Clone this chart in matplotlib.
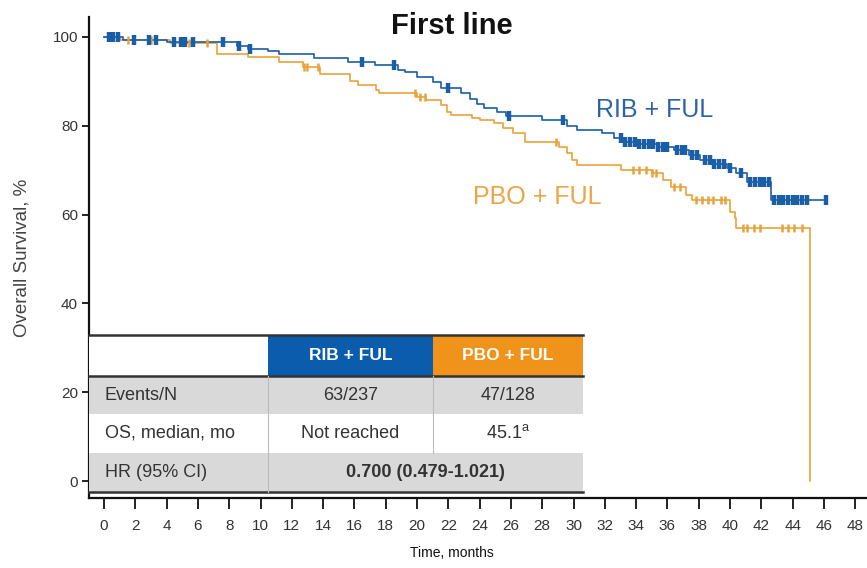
import numpy as np
import matplotlib
matplotlib.use("Agg")
import matplotlib.pyplot as plt
from matplotlib.patches import Rectangle

plt.rcParams['font.family'] = ['Liberation Sans', 'DejaVu Sans']

# ---------------- data ----------------
rib_times = [0, 1.2, 4.0, 8.5, 9.2, 10.5, 11.2, 13.4, 15.6, 17.3, 18.8, 19.2, 20.0,
             21.0, 21.5, 22.8, 23.4, 23.8, 24.3, 25.1, 25.7, 28.0, 29.6, 30.2, 31.8,
             32.6, 33.2, 34.0, 35.4, 36.4, 37.4, 38.1, 39.0, 39.8, 40.4, 41.1, 42.6, 46.1]
rib_surv = [100, 99.4, 98.8, 97.9, 97.3, 96.8, 96.2, 95.2, 94.4, 93.7, 92.6, 92.2, 91.1,
            89.9, 88.6, 87.4, 86.0, 84.8, 83.9, 83.1, 82.2, 81.3, 79.9, 79.1, 78.3,
            77.2, 76.4, 75.8, 75.2, 74.5, 73.4, 72.3, 71.5, 70.5, 69.4, 67.3, 63.3, 63.3]
rib_censor = [0.3, 0.6, 0.9, 1.9, 2.9, 3.3, 4.5, 4.9, 5.2, 5.7, 7.6, 8.6, 9.3, 16.5, 18.5,
              22.0, 25.9, 29.3, 33.0, 33.3, 33.6, 33.9, 34.2, 34.5, 34.8, 35.1, 35.4, 35.7,
              36.0, 36.6, 36.9, 37.1, 37.6, 37.9, 38.4, 38.7, 39.0, 39.3, 39.6, 40.0, 40.7,
              41.3, 41.6, 41.9, 42.2, 42.5, 42.8, 43.1, 43.4, 43.7, 44.0, 44.3, 44.6, 44.9, 46.1]

pbo_times = [0, 1.0, 4.2, 7.2, 9.2, 11.2, 12.7, 13.8, 15.7, 16.2, 17.4, 17.6, 20.0, 20.6,
             21.5, 21.9, 22.2, 23.5, 24.0, 24.9, 25.5, 26.1, 26.9, 29.1, 29.6, 29.9, 30.2,
             33.0, 35.0, 35.7, 36.2, 37.2, 37.6, 40.0, 40.3, 40.4, 45.1]
pbo_surv = [100, 99.3, 98.7, 96.2, 95.4, 94.4, 93.3, 91.7, 90.0, 89.2, 88.1, 87.3, 86.5, 85.8,
            84.7, 83.2, 82.4, 81.8, 81.3, 80.6, 79.5, 78.4, 76.4, 75.2, 73.8, 72.3, 71.2,
            70.0, 69.4, 67.8, 66.2, 64.4, 63.3, 60.6, 59.2, 57.0, 0.0]
pbo_censor = [1.5, 1.9, 3.0, 5.4, 6.6, 12.8, 13.0, 13.7, 19.9, 20.2, 20.5, 28.9, 33.8, 34.2,
              34.6, 35.0, 35.3, 36.4, 36.8, 37.8, 38.2, 38.6, 38.9, 39.4, 39.7, 40.8, 41.1,
              41.5, 41.9, 43.3, 43.7, 44.1, 44.6]

x_ticks = list(range(0, 50, 2))
y_ticks = [0, 20, 40, 60, 80, 100]

arm_labels = ['RIB + FUL', 'PBO + FUL']
row_labels = ['Events/N', 'OS, median, mo', 'HR (95% CI)']
events_n = ['63/237', '47/128']
median_os = ['Not reached', r'45.1$^{\mathregular{a}}$']
hr_text = '0.700 (0.479-1.021)'

BLUE = '#1a5ea8'
ORANGE = '#e9a23b'
HDR_BLUE = '#0b5cad'
HDR_ORANGE = '#f0931a'
GRAY = '#d9d9d9'

# ---------------- figure ----------------
W, H = 867, 568
fig = plt.figure(figsize=(W / 100, H / 100), dpi=100)
L, R, T, B = 89, 867, 17, 498
ax = fig.add_axes([L / W, 1 - B / H, (R - L) / W, (B - T) / H])
ax.set_xlim(-0.96, 48.75)
ax.set_ylim(-3.8, 104.5)

def surv_at(times, surv, c):
    idx = np.searchsorted(np.asarray(times), np.asarray(c), side='right') - 1
    return np.asarray(surv)[idx]

ax.step(rib_times, rib_surv, where='post', color=BLUE, lw=1.2, zorder=3)
ax.plot(rib_censor, surv_at(rib_times, rib_surv, rib_censor), ls='none', marker='|',
        ms=6.5, mew=3.2, color=BLUE, zorder=4)
ax.step(pbo_times, pbo_surv, where='post', color=ORANGE, lw=1.2, zorder=2)
ax.plot(pbo_censor, surv_at(pbo_times, pbo_surv, pbo_censor), ls='none', marker='|',
        ms=6, mew=1.8, color=ORANGE, zorder=3)

for s in ['top', 'right']:
    ax.spines[s].set_visible(False)
for s in ['left', 'bottom']:
    ax.spines[s].set_linewidth(1.6)
    ax.spines[s].set_color('#111111')

ax.set_xticks(x_ticks)
ax.set_xticklabels([str(v) for v in x_ticks], fontsize=11, color='#333333')
ax.set_yticks(y_ticks)
ax.set_yticklabels([str(v) for v in y_ticks], fontsize=11, color='#333333')
ax.tick_params(axis='x', direction='out', length=8, width=1.3, pad=7, color='#111111')
ax.tick_params(axis='y', direction='out', length=5, width=1.3, pad=3, color='#111111')

fig.text(452 / W, 1 - 26 / H, 'First line', ha='center', va='center',
         fontsize=21, fontweight='bold', color='#111111')
fig.text(452 / W, 1 - 553 / H, 'Time, months', ha='center', va='center',
         fontsize=10, color='#111111')
fig.text(22 / W, 1 - 258 / H, 'Overall Survival, %', ha='center', va='center',
         rotation=90, fontsize=13.5, color='#444444')

fig.text(655 / W, 1 - 110 / H, arm_labels[0], ha='center', va='center',
         fontsize=18, color='#2d62a6')
fig.text(537 / W, 1 - 197 / H, arm_labels[1], ha='center', va='center',
         fontsize=18, color='#eba544')

# ---------------- table ----------------
def fx(px):
    return (px - L) / (R - L)

def fy(py):
    return (B - py) / (B - T)

tab_x0, col1, col2, tab_x1 = 89, 268, 433, 583
row_edges = [335, 376, 414, 453, 492]

def rect(x0, x1, y0, y1, color):
    ax.add_patch(Rectangle((fx(x0), fy(y1)), fx(x1) - fx(x0), fy(y0) - fy(y1),
                           transform=ax.transAxes, facecolor=color, edgecolor='none',
                           clip_on=False, zorder=5))

rect(tab_x0, col1, row_edges[0], row_edges[1], 'white')
rect(col1, col2, row_edges[0], row_edges[1], HDR_BLUE)
rect(col2, tab_x1, row_edges[0], row_edges[1], HDR_ORANGE)
rect(tab_x0, tab_x1, row_edges[1], row_edges[2], GRAY)
rect(tab_x0, tab_x1, row_edges[2], row_edges[3], 'white')
rect(tab_x0, tab_x1, row_edges[3], row_edges[4], GRAY)

for ye in [row_edges[0], row_edges[1], row_edges[4]]:
    ax.plot([fx(tab_x0), fx(tab_x1)], [fy(ye), fy(ye)], transform=ax.transAxes,
            color='#333333', lw=1.8, clip_on=False, zorder=6)
for xe, y0, y1 in [(col1, row_edges[1], row_edges[4]), (col2, row_edges[1], row_edges[3])]:
    ax.plot([fx(xe), fx(xe)], [fy(y0), fy(y1)], transform=ax.transAxes,
            color='#bbbbbb', lw=0.8, clip_on=False, zorder=6)

cx = [fx((col1 + col2) / 2), fx((col2 + tab_x1) / 2)]
rc = [fy((row_edges[i] + row_edges[i + 1]) / 2) for i in range(4)]
tk = dict(transform=ax.transAxes, va='center', zorder=7, clip_on=False)
for i, lab in enumerate(arm_labels):
    ax.text(cx[i], rc[0], lab, ha='center', fontsize=12.5, fontweight='bold',
            color='white', **tk)
for i, lab in enumerate(row_labels):
    ax.text(fx(105), rc[i + 1], lab, ha='left', fontsize=13, color='#333333', **tk)
for i in range(2):
    ax.text(cx[i], rc[1], events_n[i], ha='center', fontsize=13, color='#333333', **tk)
    ax.text(cx[i], rc[2], median_os[i], ha='center', fontsize=13, color='#333333', **tk)
ax.text(fx((col1 + tab_x1) / 2), rc[3], hr_text, ha='center', fontsize=13,
        fontweight='bold', color='#333333', **tk)

fig.savefig('out.png', dpi=100)
